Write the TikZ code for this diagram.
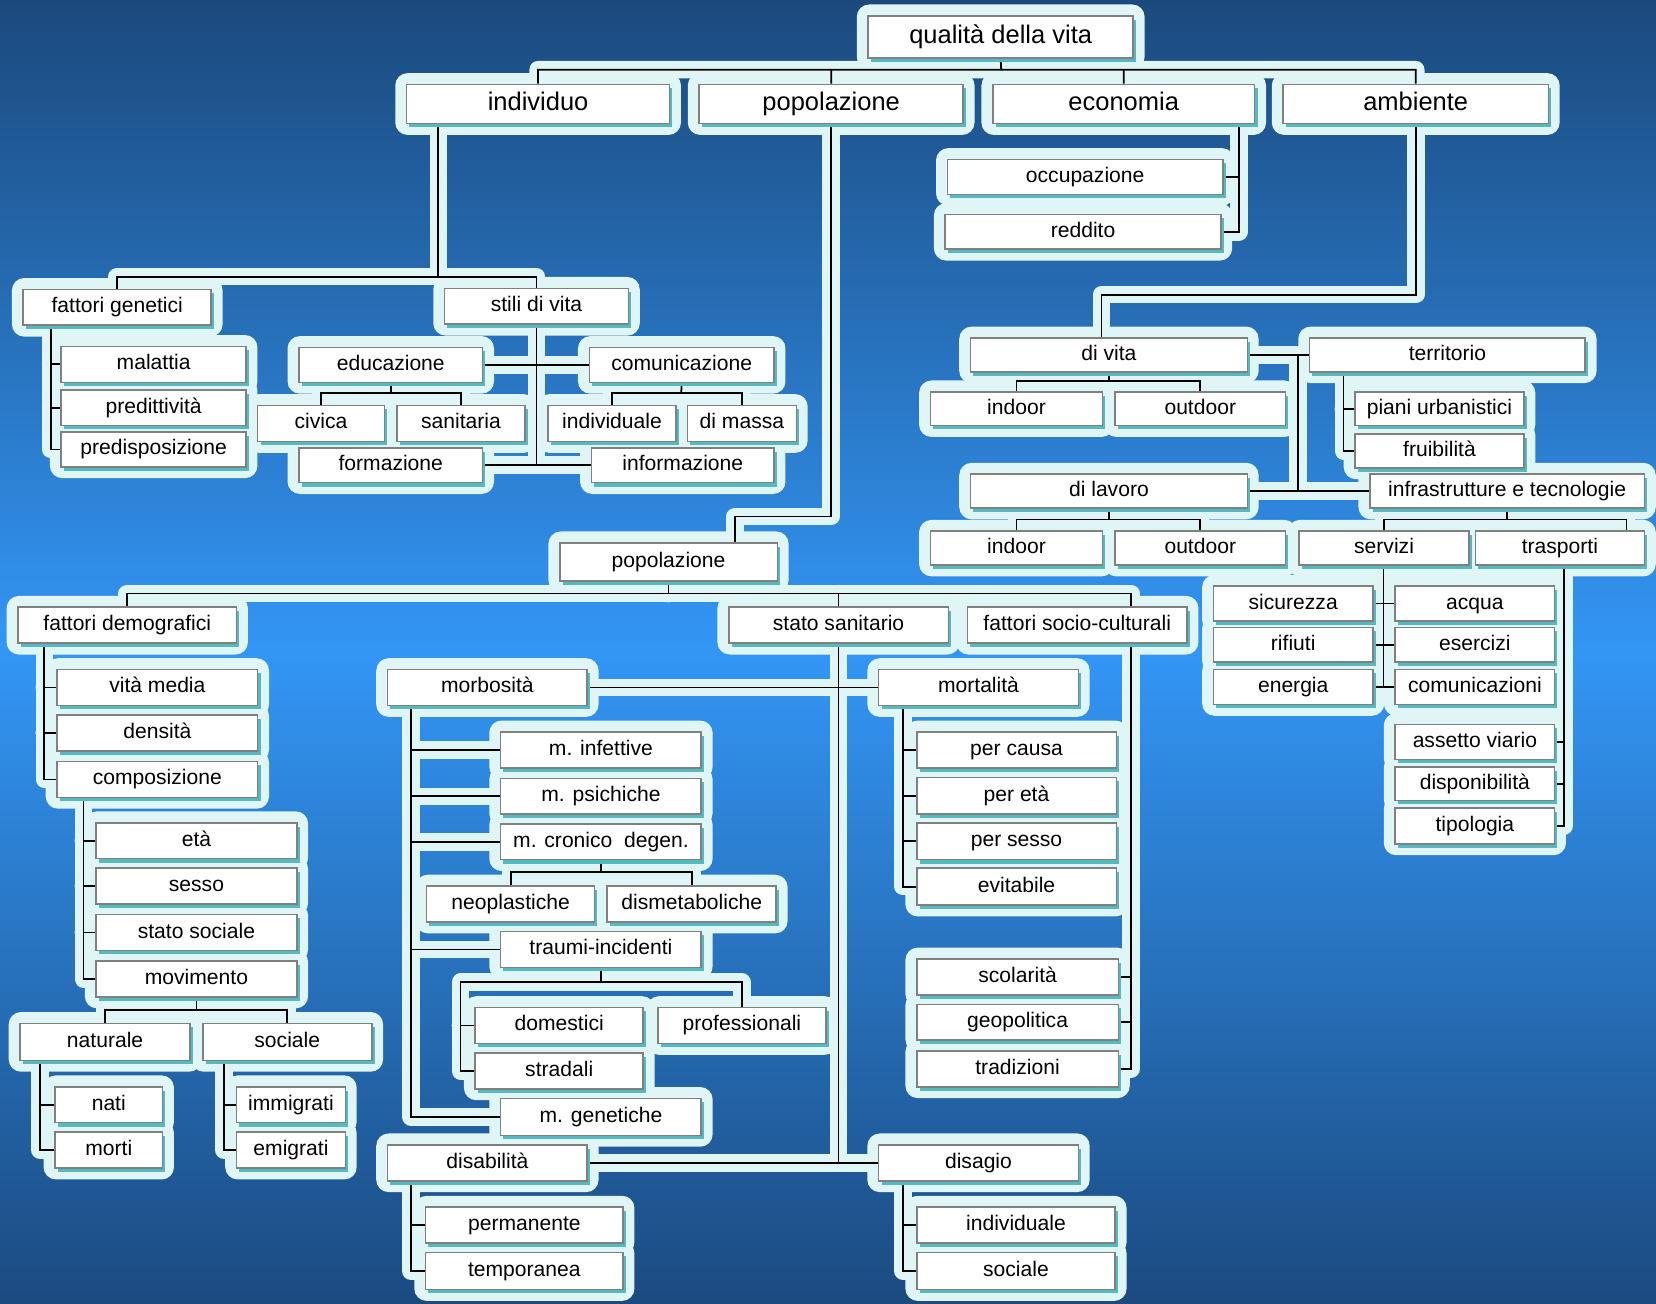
\documentclass[tikz,border=0pt]{standalone}
\usepackage{fontspec}
\setmainfont{Liberation Sans}
\usetikzlibrary{shadows}

\pgfdeclarelayer{bg}
\pgfdeclarelayer{halo}
\pgfdeclarelayer{links}
\pgfsetlayers{bg,halo,links,main}

\definecolor{skytop}{RGB}{27,73,125}
\definecolor{skymid}{RGB}{51,150,245}
\definecolor{skybot}{RGB}{27,74,128}
\definecolor{halo}{RGB}{224,245,245}
\definecolor{boxedge}{RGB}{128,128,128}
\definecolor{boxshade}{RGB}{85,186,192}

\begin{document}
\begin{tikzpicture}[x=0.02112cm, y=-0.02112cm,
    box/.style args={(#1,#2) (#3,#4)}{at={({(#1+#3)/2},{(#2+#4)/2})},
                minimum width={(#3-#1)*0.02112cm}, minimum height={(#4-#2)*0.02112cm},
                draw=boxedge, fill=white, line width=0.9pt, inner sep=0pt,
                font=\fontsize{12}{14}\selectfont, text height=8.8pt, text depth=2.6pt,
                drop shadow={shadow xshift=1.6pt, shadow yshift=-2.2pt, fill=boxshade, opacity=1}},
    topbox/.style={box={#1}, font=\fontsize{14.5}{17}\selectfont, text height=10.6pt, text depth=3.1pt},
    link/.style={draw=black, line width=1pt,
                 preaction={draw=halo, line width=10pt, line cap=round, line join=round}}]

                \useasboundingbox (0,0) rectangle (1568,1234);
                \begin{pgfonlayer}{bg}
                    \shade[top color=skytop, bottom color=skybot, middle color=skymid] (0,0) rectangle (1568,1234);
                \end{pgfonlayer}

                % Top level
                \node[topbox={(822,15) (1073,55)}] (qdv) {qualità della vita};
                \node[topbox={(385,80) (634,117)}] (indiv) {individuo};
                \node[topbox={(662,80) (912,117)}] (pop) {popolazione};
                \node[topbox={(940,80) (1188,117)}] (eco) {economia};
                \node[topbox={(1215,80) (1466,117)}] (amb) {ambiente};

                % Economia
                \node[box={(897,151) (1158,184)}] (occup) {occupazione};
                \node[box={(895,203) (1156,236)}] (reddito) {reddito};

                % Individuo
                \node[box={(22,274) (200,308)}] (fgen) {fattori genetici};
                \node[box={(421,273) (595,307)}] (stili) {stili di vita};
                \node[box={(58,328) (233,362)}] (malattia) {malattia};
                \node[box={(58,369) (233,403)}] (preditt) {predittività};
                \node[box={(58,409) (233,442)}] (predisp) {predisposizione};
                \node[box={(283,329) (457,362)}] (educ) {educazione};
                \node[box={(558,329) (733,362)}] (comunic) {comunicazione};
                \node[box={(244,384) (364,418)}] (civica) {civica};
                \node[box={(376,384) (497,418)}] (sanit) {sanitaria};
                \node[box={(519,384) (640,418)}] (comind) {individuale};
                \node[box={(651,384) (754,418)}] (massa) {di massa};
                \node[box={(283,424) (457,457)}] (formaz) {formazione};
                \node[box={(560,424) (733,457)}] (inform) {informazione};

                % Popolazione
                \node[box={(530,514) (736,550)}] (pop2) {popolazione};
                \node[box={(17,575) (224,609)}] (fdem) {fattori demografici};
                \node[box={(690,575) (898,609)}] (statos) {stato sanitario};
                \node[box={(916,575) (1124,609)}] (fsc) {fattori socio-culturali};
                \node[box={(54,634) (244,668)}] (vita) {vità media};
                \node[box={(54,677) (244,711)}] (densita) {densità};
                \node[box={(54,721) (244,755)}] (compos) {composizione};
                \node[box={(91,779) (281,813)}] (eta) {età};
                \node[box={(91,822) (281,856)}] (sesso) {sesso};
                \node[box={(91,866) (281,900)}] (statosoc) {stato sociale};
                \node[box={(91,910) (281,944)}] (movim) {movimento};
                \node[box={(19,969) (180,1004)}] (natur) {naturale};
                \node[box={(192,969) (352,1004)}] (socmov) {sociale};
                \node[box={(52,1029) (154,1063)}] (nati) {nati};
                \node[box={(52,1072) (154,1106)}] (morti) {morti};
                \node[box={(224,1029) (327,1063)}] (immig) {immigrati};
                \node[box={(224,1072) (327,1106)}] (emig) {emigrati};

                % Stato sanitario
                \node[box={(367,634) (556,668)}] (morbos) {morbosità};
                \node[box={(832,634) (1021,668)}] (mortal) {mortalità};
                \node[box={(474,693) (664,727)}] (minfet) {m. infettive};
                \node[box={(474,737) (664,771)}] (mpsic) {m. psichiche};
                \node[box={(474,780) (664,814)}] (mcron) {m. cronico\ \ degen.};
                \node[box={(404,839) (563,873)}] (neopl) {neoplastiche};
                \node[box={(575,839) (735,873)}] (dismet) {dismetaboliche};
                \node[box={(474,882) (664,916)}] (traumi) {traumi-incidenti};
                \node[box={(450,954) (609,988)}] (domest) {domestici};
                \node[box={(623,954) (782,988)}] (profess) {professionali};
                \node[box={(450,997) (609,1031)}] (strad) {stradali};
                \node[box={(474,1040) (664,1075)}] (mgenet) {m. genetiche};
                \node[box={(868,693) (1057,727)}] (percausa) {per causa};
                \node[box={(868,736) (1057,771)}] (pereta) {per età};
                \node[box={(868,779) (1057,814)}] (persesso) {per sesso};
                \node[box={(868,822) (1057,857)}] (evitab) {evitabile};
                \node[box={(868,908) (1059,942)}] (scolar) {scolarità};
                \node[box={(868,951) (1059,985)}] (geopol) {geopolitica};
                \node[box={(868,995) (1059,1029)}] (tradiz) {tradizioni};
                \node[box={(367,1084) (556,1118)}] (disabil) {disabilità};
                \node[box={(832,1084) (1021,1118)}] (disagio) {disagio};
                \node[box={(403,1143) (590,1177)}] (perman) {permanente};
                \node[box={(403,1186) (590,1221)}] (tempor) {temporanea};
                \node[box={(868,1143) (1056,1177)}] (disind) {individuale};
                \node[box={(868,1186) (1056,1221)}] (dissoc) {sociale};

                % Ambiente
                \node[box={(919,320) (1181,352)}] (divita) {di vita};
                \node[box={(1240,320) (1501,352)}] (territ) {territorio};
                \node[box={(881,371) (1044,403)}] (indoorA) {indoor};
                \node[box={(1056,371) (1217,403)}] (outdoorA) {outdoor};
                \node[box={(1283,371) (1443,403)}] (piani) {piani urbanistici};
                \node[box={(1283,411) (1443,443)}] (fruib) {fruibilità};
                \node[box={(919,449) (1181,481)}] (dilav) {di lavoro};
                \node[box={(1297,449) (1557,481)}] (infra) {infrastrutture e tecnologie};
                \node[box={(881,503) (1044,535)}] (indoorB) {indoor};
                \node[box={(1056,503) (1217,535)}] (outdoorB) {outdoor};
                \node[box={(1230,503) (1391,535)}] (servizi) {servizi};
                \node[box={(1397,503) (1557,535)}] (trasp) {trasporti};
                \node[box={(1149,555) (1300,588)}] (sicur) {sicurezza};
                \node[box={(1149,594) (1300,627)}] (rifiuti) {rifiuti};
                \node[box={(1149,634) (1300,667)}] (energia) {energia};
                \node[box={(1321,555) (1472,588)}] (acqua) {acqua};
                \node[box={(1321,594) (1472,627)}] (eserc) {esercizi};
                \node[box={(1321,634) (1472,667)}] (comuniz) {comunicazioni};
                \node[box={(1321,686) (1472,719)}] (assetto) {assetto viario};
                \node[box={(1321,726) (1472,758)}] (dispon) {disponibilità};
                \node[box={(1321,765) (1472,799)}] (tipol) {tipologia};

                % Glow round the boxes
                \begin{pgfonlayer}{halo}
                    \foreach \n in {qdv, indiv, pop, eco, amb, occup, reddito,
                                    fgen, stili, malattia, preditt, predisp, educ, comunic,
                                    civica, sanit, comind, massa, formaz, inform,
                                    pop2, fdem, statos, fsc, vita, densita, compos, eta, sesso,
                                    statosoc, movim, natur, socmov, nati, morti, immig, emig,
                                    morbos, mortal, minfet, mpsic, mcron, neopl, dismet, traumi,
                                    domest, profess, strad, mgenet, percausa, pereta, persesso,
                                    evitab, scolar, geopol, tradiz, disabil, disagio, perman,
                                    tempor, disind, dissoc, divita, territ, indoorA, outdoorA,
                                    piani, fruib, dilav, infra, indoorB, outdoorB, servizi, trasp,
                                    sicur, rifiuti, energia, acqua, eserc, comuniz, assetto,
                                    dispon, tipol}
                        \fill[halo, rounded corners=7pt] ([shift={(-10,-10)}]\n.north west)
                            rectangle ([shift={(10,10)}]\n.south east);
                \end{pgfonlayer}

                % Junctions of the tree lines
                \coordinate (qbus) at (948,66);
                \coordinate (ebus) at (1173,0);
                \coordinate (ibus) at (415,262);
                \coordinate (fgx) at (48,0);
                \coordinate (edbus) at (370,372);
                \coordinate (cmbus) at (645,372);
                \coordinate (pbus) at (696,489);
                \coordinate (p2bus) at (633,562);
                \coordinate (fscx) at (1071,0);
                \coordinate (fdx) at (42,0);
                \coordinate (cpx) at (79,0);
                \coordinate (mvbus) at (186,956);
                \coordinate (ntx) at (38,0);
                \coordinate (scx) at (212,0);
                \coordinate (mbx) at (389,0);
                \coordinate (mcbus) at (569,826);
                \coordinate (trbus) at (436,930);
                \coordinate (mtx) at (855,0);
                \coordinate (abus) at (1043,279);
                \coordinate (envx) at (1229,0);
                \coordinate (dvbus) at (1050,361);
                \coordinate (dlbus) at (1050,492);
                \coordinate (tex) at (1272,0);
                \coordinate (infbus) at (1427,492);
                \coordinate (trdrop) at (1540,0);
                \coordinate (svx) at (1310,0);
                \coordinate (tpx) at (1481,0);

                % Tree lines
                \begin{pgfonlayer}{links}
                    \draw[link] (qdv.south) -- (qbus) (indiv.north) |- (qbus) -| (amb.north)
                        (pop.north) -- (pop.north |- qbus) (eco.north) -- (eco.north |- qbus);
                    \draw[link] (ebus |- eco.south) |- (reddito.east) (occup.east) -- (occup.east -| ebus);

                    \draw[link] (ibus |- indiv.south) -- (ibus) (fgen.north) |- (ibus) -| (stili.north);
                    \draw[link] (fgx |- fgen.south) |- (predisp.west)
                        (malattia.west) -- (malattia.west -| fgx) (preditt.west) -- (preditt.west -| fgx);
                    \draw[link] (stili.south) -- (stili.south |- formaz.east)
                        (educ.east) -- (comunic.west) (formaz.east) -- (inform.west);
                    \draw[link] (educ.south) -- (edbus) (civica.north) |- (edbus) -| (sanit.north);
                    \draw[link] (comunic.south) -- (cmbus) (comind.north) |- (cmbus) -| (massa.north);

                    \draw[link] (pop.south) |- (pbus) -- (pbus |- pop2.north);
                    \draw[link] (pop2.south) -- (p2bus) (fdem.north) |- (p2bus) -| (fscx |- fsc.north)
                        (statos.north) -- (statos.north |- p2bus);
                    \draw[link] (fscx |- fsc.south) |- (tradiz.east)
                        (scolar.east) -- (scolar.east -| fscx) (geopol.east) -- (geopol.east -| fscx);
                    \draw[link] (statos.south) -- (statos.south |- disagio.west)
                        (morbos.east) -- (mortal.west) (disabil.east) -- (disagio.west);

                    \draw[link] (fdx |- fdem.south) |- (compos.west)
                        (vita.west) -- (vita.west -| fdx) (densita.west) -- (densita.west -| fdx);
                    \draw[link] (cpx |- compos.south) |- (movim.west) (eta.west) -- (eta.west -| cpx)
                        (sesso.west) -- (sesso.west -| cpx) (statosoc.west) -- (statosoc.west -| cpx);
                    \draw[link] (movim.south) -- (mvbus) (natur.north) |- (mvbus) -| (socmov.north);
                    \draw[link] (ntx |- natur.south) |- (morti.west) (nati.west) -- (nati.west -| ntx);
                    \draw[link] (scx |- socmov.south) |- (emig.west) (immig.west) -- (immig.west -| scx);

                    \draw[link] (mbx |- morbos.south) |- (mgenet.west)
                        (minfet.west) -- (minfet.west -| mbx) (mpsic.west) -- (mpsic.west -| mbx)
                        (mcron.west) -- (mcron.west -| mbx) (traumi.west) -- (traumi.west -| mbx);
                    \draw[link] (mcron.south) -- (mcbus) (neopl.north) |- (mcbus) -| (dismet.north);
                    \draw[link] (traumi.south) -- (traumi.south |- trbus) (strad.west) -| (trbus) -| (profess.north)
                        (domest.west) -- (domest.west -| trbus);
                    \draw[link] (mtx |- mortal.south) |- (evitab.west)
                        (percausa.west) -- (percausa.west -| mtx) (pereta.west) -- (pereta.west -| mtx)
                        (persesso.west) -- (persesso.west -| mtx);
                    \draw[link] (mbx |- disabil.south) |- (tempor.west) (perman.west) -- (perman.west -| mbx);
                    \draw[link] (mtx |- disagio.south) |- (dissoc.west) (disind.west) -- (disind.west -| mtx);

                    \draw[link] (amb.south) |- (abus) -- (abus |- divita.north);
                    \draw[link] (divita.east) -- (territ.west) (envx |- divita.east) -- (envx |- dilav.east)
                        (dilav.east) -- (infra.west);
                    \draw[link] (divita.south) -- (dvbus) (indoorA.north) |- (dvbus) -| (outdoorA.north);
                    \draw[link] (dilav.south) -- (dlbus) (indoorB.north) |- (dlbus) -| (outdoorB.north);
                    \draw[link] (tex |- territ.south) |- (fruib.west) (piani.west) -- (piani.west -| tex);
                    \draw[link] (infra.south) -- (infbus) (servizi.north) |- (infbus) -| (trdrop |- trasp.north);
                    \draw[link] (svx |- servizi.south) -- (svx |- energia.east) (sicur.east) -- (acqua.west)
                        (rifiuti.east) -- (eserc.west) (energia.east) -- (comuniz.west);
                    \draw[link] (tpx |- trasp.south) |- (tipol.east)
                        (assetto.east) -- (assetto.east -| tpx) (dispon.east) -- (dispon.east -| tpx);
                \end{pgfonlayer}
            \end{tikzpicture}
\end{document}
